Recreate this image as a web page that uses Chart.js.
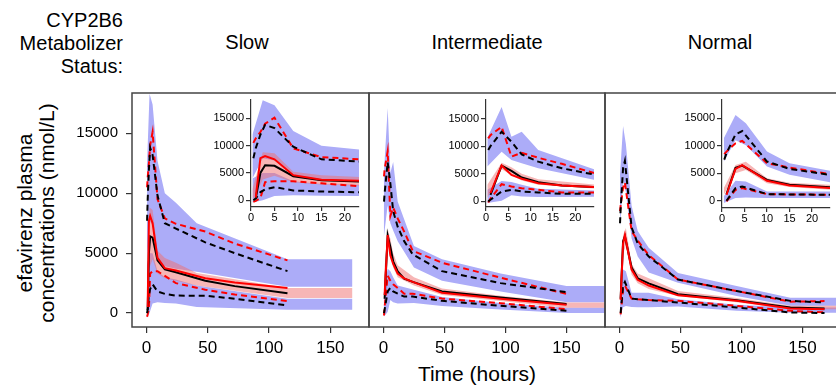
<!DOCTYPE html>
<html>
<head>
<meta charset="utf-8">
<script src="https://cdn.jsdelivr.net/npm/chart.js@4.4.1/dist/chart.umd.min.js"></script>
<style>
  body { margin: 0; width: 836px; height: 388px; overflow: hidden; background: #fff; position: relative;
         font-family: "Liberation Sans", Arial, sans-serif; color: #000; }
  canvas { position: absolute; }
  .txt { position: absolute; white-space: nowrap; }
</style>
</head>
<body>
<div class="txt" style="right:713px; top:9px; font-size:20px; line-height:23px; text-align:right;">CYP2B6<br>Metabolizer<br>Status:</div>
<div class="txt" id="t0" style="left:147px; top:31px; width:200px; text-align:center; font-size:20px; line-height:23px;"></div>
<div class="txt" id="t1" style="left:387px; top:31px; width:200px; text-align:center; font-size:20px; line-height:23px;"></div>
<div class="txt" id="t2" style="left:620px; top:31px; width:200px; text-align:center; font-size:20px; line-height:23px;"></div>
<div class="txt" style="left:377px; top:362px; width:200px; text-align:center; font-size:21px; line-height:24px;">Time (hours)</div>
<div class="txt" style="left:-114px; top:191px; width:300px; height:44px; text-align:center; font-size:21px; line-height:22px; transform:rotate(-90deg);">efavirenz plasma<br>concentrations (nmol/L)</div>

<canvas id="mainSlow" width="375" height="290" style="left:0; top:85px;"></canvas>
<canvas id="mainInt" width="248" height="290" style="left:363px; top:85px;"></canvas>
<canvas id="mainNorm" width="248" height="290" style="left:599px; top:85px;"></canvas>
<canvas id="insSlow" width="166" height="135" style="left:199px; top:94px;"></canvas>
<canvas id="insInt" width="166" height="135" style="left:434px; top:94px;"></canvas>
<canvas id="insNorm" width="166" height="136" style="left:670px; top:94px;"></canvas>

<script>
const panelTitles = ['Slow', 'Intermediate', 'Normal'];
const yTicks = [0, 5000, 10000, 15000];
const xTicksMain = [0, 50, 100, 150];
const xTicksInset = [0, 5, 10, 15, 20];

// Slow metabolizers
const slowLineT = [0.5, 1, 2, 3, 5, 9, 15, 24, 48, 72, 115];
const slowObsMed = [null, 250, 5000, 6400, 6300, 4400, 3650, 3400, 2700, 2250, 1650];
const slowSimMed = [null, 500, 7700, 8100, 7500, 4600, 3750, 3550, 2900, 2550, 2100];
const slowObsHi = [7700, 9500, 12000, 13800, 13200, 9800, 7500, 7050, 5900, 5000, 3500];
const slowSimHi = [10500, 11300, 12500, 14000, 15100, 9500, 7900, 7450, 6800, 5800, 4400];
const slowObsLo = [0, 300, 1500, 2000, 2400, 1800, 1600, 1460, 1450, 1200, 650];
const slowSimLo = [-300, -100, 400, 3300, 3500, 3500, 3100, 2500, 1950, 1550, 1000];
const slowBandT = [0.3, 2.5, 5, 9, 15, 24, 41, 115, 168];
const slowUpHi = [12000, 18300, 17400, 12700, 10000, 9200, 7500, 4500, 4500];
const slowUpLo = [4000, 7700, 7300, 4500, 3900, 3700, 3450, 2200, 2200];
const slowMedHi = [2000, 8800, 8600, 5200, 4600, 4200, 3350, 2100, 2100];
const slowMedLo = [0, 3800, 4500, 3300, 2900, 2700, 2300, 1250, 1250];
const slowLoHi = [4000, 5000, 5000, 3500, 3000, 2800, 2300, 1200, 1200];
const slowLoLo = [-400, 0, 800, 900, 850, 800, 500, 280, 280];

// Intermediate metabolizers
const intLineT = [0.5, 1, 3.5, 5.7, 8, 11.7, 17, 24, 48, 96, 150];
const intObsMed = [null, 1200, 6480, 5520, 4320, 3480, 2880, 2600, 1800, 1300, 750];
const intSimMed = [null, 1500, 6500, 4800, 4100, 3300, 2900, 2600, 1700, 1200, 700];
const intObsHi = [9300, 10000, 12600, 10800, 8500, 7200, 6000, 4900, 3500, 2500, 1750];
const intSimHi = [11400, 12000, 13500, 8100, 8800, 7900, 6800, 5200, 4200, 2950, 1600];
const intObsLo = [0, 300, 1800, 2100, 1800, 1620, 1380, 1380, 1020, 605, 190];
const intSimLo = [-200, 500, 3120, 2700, 2400, 2100, 1620, 1620, 1210, 825, 330];
const intBandT = [0.3, 3.5, 5.7, 8, 11.7, 25, 48, 96, 150, 200];
const intUpHi = [11500, 17100, 11700, 12600, 9300, 5600, 4500, 3300, 2250, 2250];
const intUpLo = [6300, 9000, 7500, 6900, 6000, 3800, 2700, 1800, 900, 900];
const intMedHi = [3000, 7000, 6200, 5000, 4000, 3000, 2050, 1450, 880, 880];
const intMedLo = [600, 5800, 4800, 3800, 3000, 2300, 1500, 1000, 450, 450];
const intLoHi = [2100, 3700, 3500, 3000, 2300, 1950, 1350, 850, 450, 450];
const intLoLo = [-300, 100, 1100, 900, 800, 850, 600, 300, 0, 0];

// Normal metabolizers
const normLineT = [0.5, 1, 3, 4.5, 10, 15, 24, 48, 96, 140, 168];
const normObsMed = [null, 1200, 6000, 6400, 3800, 2900, 2480, 1570, 1070, 470, 385];
const normSimMed = [null, 1100, 5800, 6500, 3630, 2780, 2300, 1480, 1020, 385, 330];
const normObsHi = [7500, 8650, 12100, 12700, 7140, 5800, 4720, 2800, 1840, 1020, 880];
const normSimHi = [8500, 8950, 10470, 10900, 6840, 6050, 4840, 2800, 1840, 950, 1000];
const normObsLo = [null, 0, 2300, 2600, 1210, 1150, 1090, 880, 470, 55, 0];
const normSimLo = [null, -100, 2000, 2300, 1210, 1150, 1090, 1020, 605, 190, 55];
const normBandT = [0.4, 3, 5.3, 10, 15, 24, 48, 96, 140, 200];
const normUpHi = [11400, 15600, 14100, 8950, 6840, 5450, 3350, 2250, 1290, 1290];
const normUpLo = [7100, 11000, 10100, 6230, 4720, 3390, 2530, 1430, 605, 605];
const normMedHi = [2300, 6500, 7100, 4100, 3300, 2900, 1840, 1250, 605, 605];
const normMedLo = [1100, 5000, 5600, 3200, 2500, 2000, 1430, 900, 330, 330];
const normLoHi = [800, 3630, 3500, 1700, 1700, 1690, 1155, 700, 470, 470];
const normLoLo = [-420, 480, 600, 500, 480, 480, 550, 200, 30, 30];

const BLUE = 'rgb(172,172,248)';
const PINK = 'rgba(240,110,110,0.5)';
const NONE = 'rgba(0,0,0,0)';

Chart.defaults.font.family = '"Liberation Sans", Arial, sans-serif';
Chart.defaults.color = '#000';

panelTitles.forEach((t, i) => { document.getElementById('t' + i).textContent = t; });

function pts(t, v) {
    return t.map((x, i) => ({ x: x, y: v[i] })).filter(d => d.y !== null);
}

function band(t, v, fill, color) {
    return { data: pts(t, v), fill: fill, backgroundColor: color, borderColor: NONE, borderWidth: 0, pointRadius: 0, order: color === PINK ? 9 : 10 };
}

function line(t, v, color, dashed, order) {
    return { data: pts(t, v), fill: false, borderColor: color, borderWidth: 2, borderDash: dashed ? [6, 4] : [], pointRadius: 0, tension: 0, order: order };
}

function datasets(p) {
    return [
        band(p.bt, p.upHi, '+1', BLUE),
        band(p.bt, p.upLo, false, BLUE),
        band(p.bt, p.loHi, '+1', BLUE),
        band(p.bt, p.loLo, false, BLUE),
        band(p.bt, p.medHi, '+1', PINK),
        band(p.bt, p.medLo, false, PINK),
        line(p.lt, p.simHi, '#ff0000', true, 5),
        line(p.lt, p.obsHi, '#000', true, 4),
        line(p.lt, p.simLo, '#ff0000', true, 5),
        line(p.lt, p.obsLo, '#000', true, 4),
        line(p.lt, p.obsMed, '#000', false, 2),
        line(p.lt, p.simMed, '#ff0000', false, 1)
    ];
}

const panels = [
    { lt: slowLineT, obsMed: slowObsMed, simMed: slowSimMed, obsHi: slowObsHi, simHi: slowSimHi, obsLo: slowObsLo, simLo: slowSimLo,
      bt: slowBandT, upHi: slowUpHi, upLo: slowUpLo, medHi: slowMedHi, medLo: slowMedLo, loHi: slowLoHi, loLo: slowLoLo },
    { lt: intLineT, obsMed: intObsMed, simMed: intSimMed, obsHi: intObsHi, simHi: intSimHi, obsLo: intObsLo, simLo: intSimLo,
      bt: intBandT, upHi: intUpHi, upLo: intUpLo, medHi: intMedHi, medLo: intMedLo, loHi: intLoHi, loLo: intLoLo },
    { lt: normLineT, obsMed: normObsMed, simMed: normSimMed, obsHi: normObsHi, simHi: normSimHi, obsLo: normObsLo, simLo: normSimLo,
      bt: normBandT, upHi: normUpHi, upLo: normUpLo, medHi: normMedHi, medLo: normMedLo, loHi: normLoHi, loLo: normLoLo }
];

const boxBorder = {
    id: 'boxBorder',
    afterDatasetsDraw(chart) {
        const a = chart.chartArea, ctx = chart.ctx;
        ctx.save();
        ctx.strokeStyle = '#444';
        ctx.lineWidth = 1.5;
        ctx.strokeRect(a.left, a.top, a.right - a.left, a.bottom - a.top);
        ctx.restore();
    }
};

const setTicks = vals => axis => { axis.ticks = vals.map(v => ({ value: v })); };
const plain = v => String(v);
// fixed axis sizes, no extra label overhang padding
const fitX = h => s => { s.height = h; s.paddingLeft = 0; s.paddingRight = 0; };
const fitY = w => s => { s.width = w; s.paddingTop = 0; s.paddingBottom = 0; };

function mainChart(id, p, showY) {
    new Chart(document.getElementById(id), {
        type: 'line',
        data: { datasets: datasets(p) },
        options: {
            responsive: false, animation: false, events: [],
            layout: { padding: { left: showY ? 0 : 6, right: 6, top: 8, bottom: 0 } },
            plugins: { legend: { display: false }, tooltip: { enabled: false } },
            scales: {
                x: {
                    type: 'linear', min: -11.8, max: 181.5,
                    afterBuildTicks: setTicks(xTicksMain),
                    afterFit: fitX(48),
                    border: { display: false },
                    grid: { drawOnChartArea: false, tickLength: 6, color: '#333', lineWidth: 1.2 },
                    ticks: { font: { size: 17 }, padding: 5, maxRotation: 0, autoSkip: false, callback: plain }
                },
                y: {
                    min: -1160, max: 18360,
                    afterBuildTicks: setTicks(yTicks),
                    afterFit: fitY(showY ? 132 : 0),
                    border: { display: false },
                    grid: { display: showY, drawOnChartArea: false, tickLength: 6, color: '#333', lineWidth: 1.2 },
                    ticks: { display: showY, font: { size: 15 }, padding: 8, callback: plain }
                }
            }
        },
        plugins: [boxBorder]
    });
}

function insetChart(id, p, xmax, ymin) {
    new Chart(document.getElementById(id), {
        type: 'line',
        data: { datasets: datasets(p) },
        options: {
            responsive: false, animation: false, events: [],
            layout: { padding: { left: 0, right: 6, top: 6, bottom: 0 } },
            plugins: { legend: { display: false }, tooltip: { enabled: false } },
            scales: {
                x: {
                    type: 'linear', min: 0, max: xmax,
                    afterBuildTicks: setTicks(xTicksInset),
                    afterFit: fitX(22),
                    border: { display: true, color: '#333', width: 1.2 },
                    grid: { drawOnChartArea: false, tickLength: 4, color: '#333', lineWidth: 1.2 },
                    ticks: { font: { size: 11 }, padding: 0, maxRotation: 0, autoSkip: false, callback: plain }
                },
                y: {
                    min: ymin, max: 18350,
                    afterBuildTicks: setTicks(yTicks),
                    afterFit: fitY(52),
                    border: { display: true, color: '#333', width: 1.2 },
                    grid: { drawOnChartArea: false, tickLength: 5, color: '#333', lineWidth: 1.2 },
                    ticks: { font: { size: 11 }, padding: 2, callback: plain }
                }
            }
        }
    });
}

mainChart('mainSlow', panels[0], true);
mainChart('mainInt', panels[1], false);
mainChart('mainNorm', panels[2], false);
insetChart('insSlow', panels[0], 23, -1230);
insetChart('insInt', panels[1], 24.2, -1010);
insetChart('insNorm', panels[2], 24, -1320);
</script>
</body>
</html>
